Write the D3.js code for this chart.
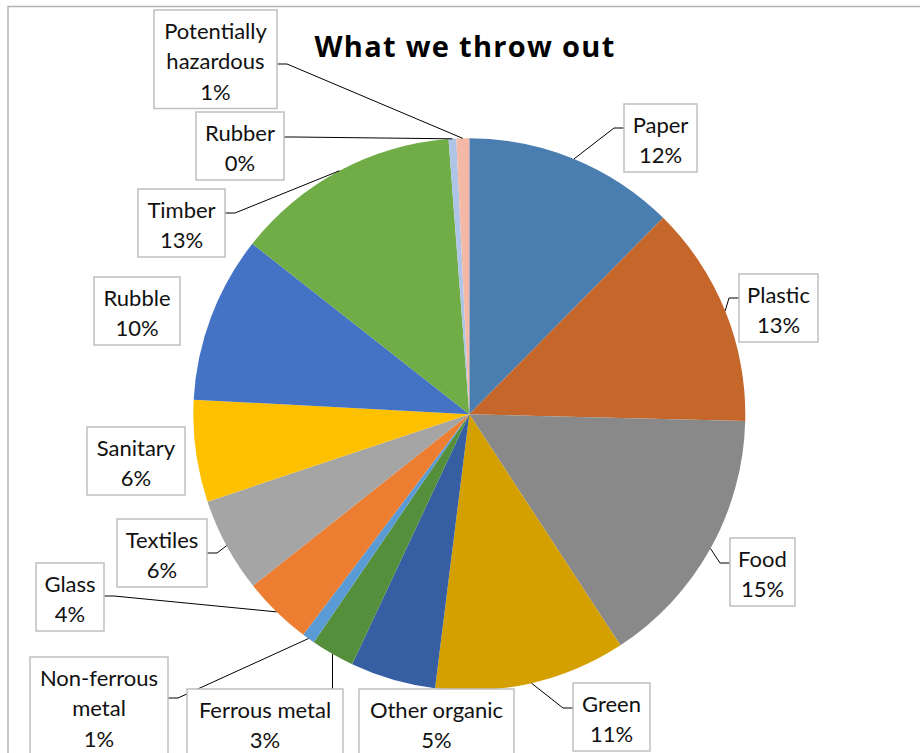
<!DOCTYPE html>
<html>
<head>
<meta charset="utf-8">
<script src="https://cdn.jsdelivr.net/npm/d3@7"></script>
<style>
  body { margin: 0; background: #fff; }
  svg { display: block; font-family: Lato, "Open Sans", sans-serif; }
</style>
</head>
<body>
<svg id="chart" width="920" height="753"></svg>
<script>
// data (share of total, %)
const categories = ['Paper', 'Plastic', 'Food', 'Green', 'Other organic', 'Ferrous metal',
  'Non-ferrous metal', 'Glass', 'Textiles', 'Sanitary', 'Rubble', 'Timber', 'Rubber',
  'Potentially hazardous']
const values = [12.39, 13.0, 15.4, 11.2, 5.0, 2.55, 0.75, 4.05, 5.55, 5.97, 9.76, 13.2, 0.45, 0.75]
const colors = ['#4a7eb0', '#c5662a', '#898989', '#d4a000', '#355ea3', '#568f3b',
  '#5b9bd5', '#ed7d31', '#a5a5a5', '#ffc000', '#4472c4', '#70ad47', '#aec5e7', '#f4b9a6']

// where each data label box sits (center x, top y, width), and how its leader attaches
const labelLayout = [
  { cx: 660.5, y: 104, w: 73, side: 'left', ay: 24 },
  { cx: 778.5, y: 274, w: 79, side: 'left', ay: 24 },
  { cx: 762.5, y: 538, w: 65, side: 'left', ay: 25 },
  { cx: 611.5, y: 683, w: 77, side: 'left', ay: 25 },
  { cx: 436.5, y: 689, w: 155, side: 'none' },
  { cx: 265, y: 689, w: 156, side: 'top' },
  { cx: 99, y: 657, w: 138, side: 'right', ay: 41, wrap: true },
  { cx: 70, y: 563, w: 68, side: 'right', ay: 33 },
  { cx: 162, y: 519, w: 90, side: 'right', ay: 34 },
  { cx: 136, y: 427, w: 98, side: 'none' },
  { cx: 137, y: 277, w: 86, side: 'none' },
  { cx: 181.5, y: 189, w: 87, side: 'right', ay: 24 },
  { cx: 240, y: 112, w: 88, side: 'right', ay: 25 },
  { cx: 215.5, y: 10, w: 123, side: 'right', ay: 54, wrap: true }
]

const svg = d3.select('#chart')
const cx = 469.3, cy = 414.3, r = 276
const lineH = 30.5

// chart area border
svg.append('rect')
  .attr('x', 8).attr('y', 6.5)
  .attr('width', 960).attr('height', 800)
  .attr('fill', '#fff')
  .attr('stroke', '#b4b4b4')
  .attr('stroke-width', 1.5)

svg.append('text')
  .attr('x', 465).attr('y', 57)
  .attr('text-anchor', 'middle')
  .style('font-family', '"Open Sans", Lato, sans-serif')
  .style('font-size', '29px')
  .style('font-weight', 'bold')
  .style('letter-spacing', '1.3px')
  .attr('fill', '#000')
  .text('What we throw out')

const total = d3.sum(values)
const pie = d3.pie().sort(null).value(d => d)
const arcs = pie(values)
const arc = d3.arc().innerRadius(0).outerRadius(r)

const pieG = svg.append('g').attr('transform', `translate(${cx},${cy})`)
pieG.selectAll('path')
  .data(arcs)
  .enter()
  .append('path')
  .attr('d', arc)
  .attr('fill', (d, i) => colors[i])

// point on the rim at the middle of a slice
const rimPoint = (d) => {
  const a = (d.startAngle + d.endAngle) / 2
  return [cx + r * Math.sin(a), cy - r * Math.cos(a)]
}

const leaders = svg.append('g')
  .attr('fill', 'none')
  .attr('stroke', '#000')
  .attr('stroke-width', 1)

const boxes = svg.append('g')

arcs.forEach((d, i) => {
  const lay = labelLayout[i]
  const name = categories[i]
  const lines = lay.wrap ? name.split(' ') : [name]
  lines.push(Math.round(d.value / total * 100) + '%')
  const h = lines.length * lineH + 7
  const x0 = lay.cx - lay.w / 2
  const [px, py] = rimPoint(d)

  if (lay.side === 'left' || lay.side === 'right') {
    const ex = lay.side === 'left' ? x0 : x0 + lay.w
    const ey = lay.y + lay.ay
    const kx = lay.side === 'left' ? ex - 10 : ex + 10
    leaders.append('path')
      .attr('d', d3.line()([[ex, ey], [kx, ey], [px, py]]))
  } else if (lay.side === 'top') {
    leaders.append('path')
      .attr('d', d3.line()([[px, lay.y], [px, py]]))
  }

  boxes.append('rect')
    .attr('x', x0).attr('y', lay.y)
    .attr('width', lay.w).attr('height', h)
    .attr('fill', '#fff')
    .attr('stroke', '#bfbfbf')
    .attr('stroke-width', 1.5)

  boxes.append('text')
    .attr('text-anchor', 'middle')
    .style('font-size', '22px')
    .attr('fill', '#111')
    .selectAll('tspan')
    .data(lines)
    .enter()
    .append('tspan')
    .attr('x', lay.cx)
    .attr('y', (t, j) => lay.y + 28.5 + j * lineH)
    .text(t => t)
})
</script>
</body>
</html>
